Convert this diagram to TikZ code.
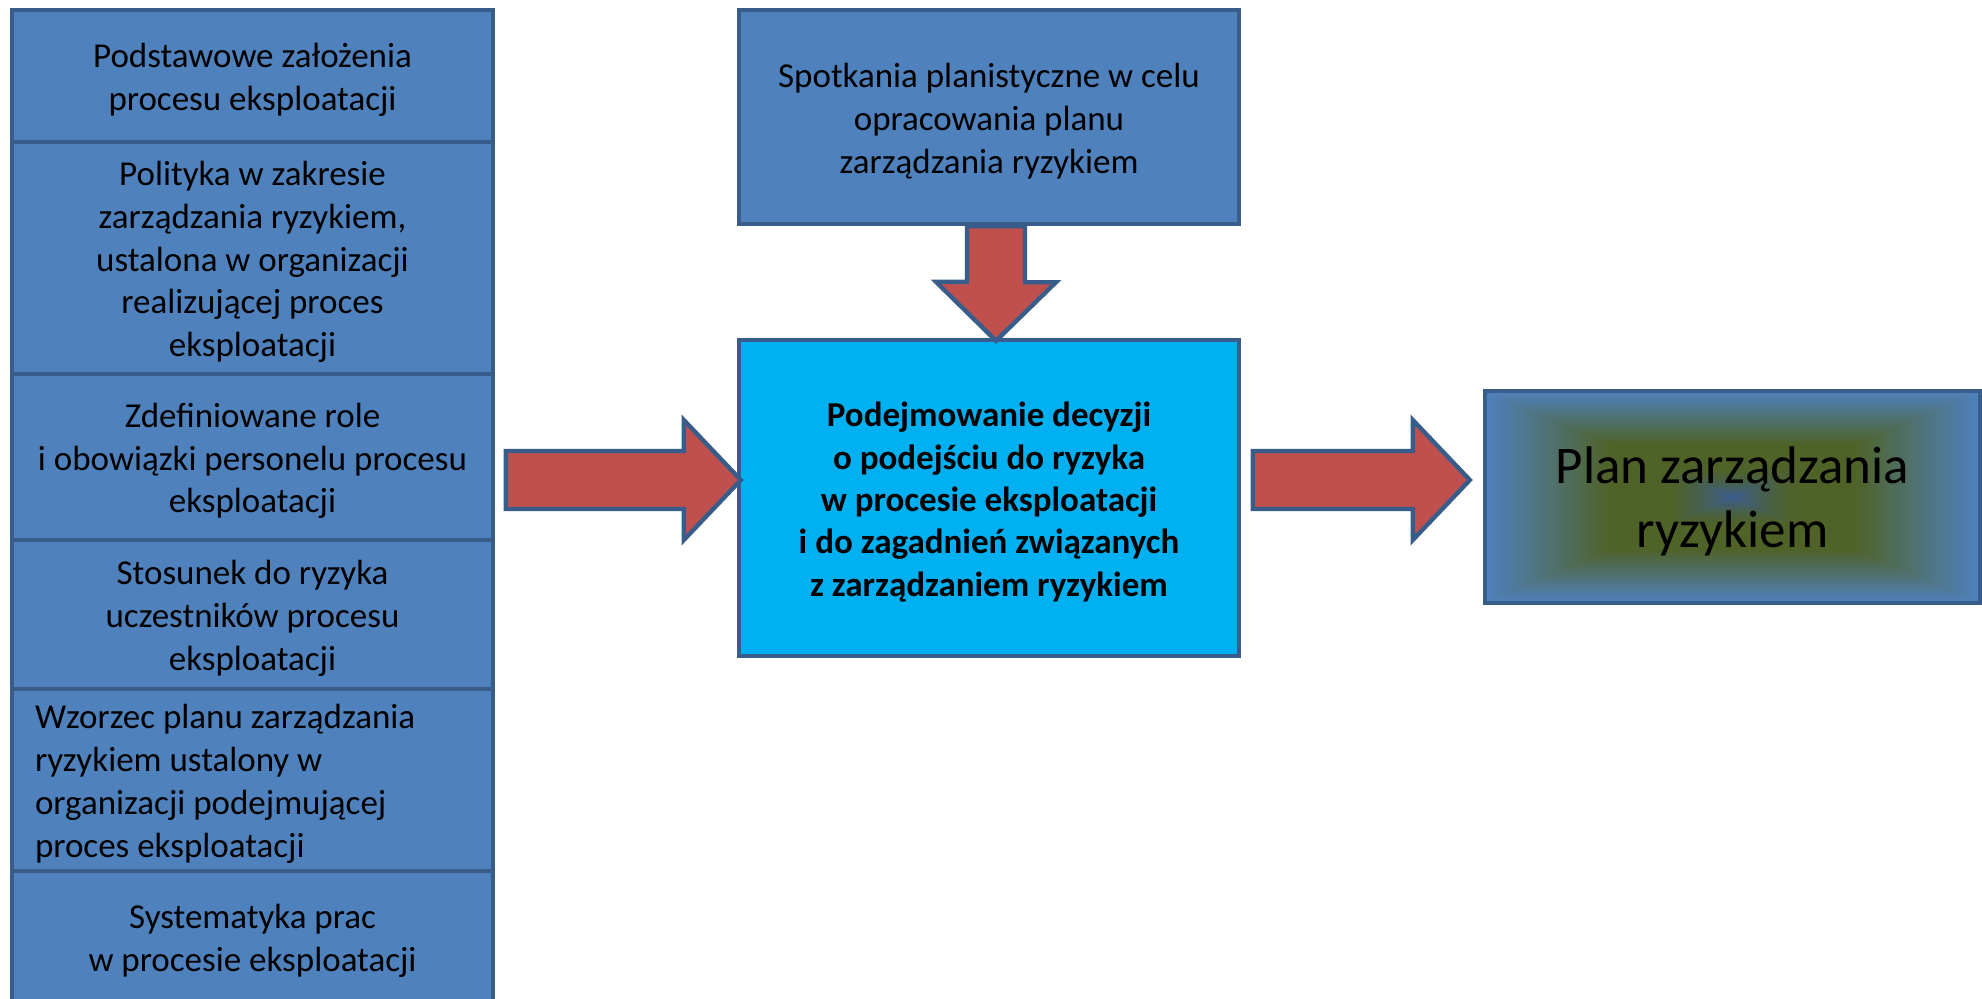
\documentclass[tikz,border=0pt]{standalone}
\usepackage{fontspec}
\setmainfont{Carlito}
\usetikzlibrary{calc}

\definecolor{boxblue}{HTML}{4F81BD}
\definecolor{edgeblue}{HTML}{385D8A}
\definecolor{decblue}{HTML}{00B0F0}
\definecolor{arrowred}{HTML}{C0504D}
\definecolor{planolive}{HTML}{4F6228}
\definecolor{spotblue}{HTML}{3A5C94}

\tikzset{
  basebox/.style={draw=edgeblue, line width=2.2pt, inner sep=0pt},
  inbox/.style={basebox, fill=boxblue, minimum width=240.5pt},
  boxtext/.style={align=center, text=black, inner sep=0pt, yshift=-2pt,
    font=\fontsize{17.5}{21.4}\selectfont},
  bigarrow/.style={draw=edgeblue, line width=2.2pt, fill=arrowred, line join=miter},
  rectgrad/.style={path picture={
    \coordinate (pc) at (path picture bounding box.center);
    \coordinate (pne) at (path picture bounding box.north east);
    \coordinate (psw) at (path picture bounding box.south west);
    % outer ring: blue edge fading into olive
    \foreach \i in {0,...,39}{
      \pgfmathsetmacro\s{1-0.5*\i/40}
      \pgfmathtruncatemacro\p{100*\i/40}
      \fill[planolive!\p!boxblue] ($(pc)!\s!(pne)$) rectangle ($(pc)!\s!(psw)$);
    }
    % inner part: olive turning into a dark blue spot
    \foreach \i in {0,...,39}{
      \pgfmathsetmacro\t{0.5+0.5*\i/40}
      \pgfmathsetmacro\s{1-\t}
      \pgfmathtruncatemacro\p{100*(max(0,(\t-0.72)/0.28))^1.5}
      \fill[spotblue!\p!planolive] ($(pc)!\s!(pne)$) rectangle ($(pc)!\s!(psw)$);
    }
  }},
}

\begin{document}
\begin{tikzpicture}[x=0.5pt,y=-0.5pt]
\useasboundingbox (0,0) rectangle (1982,998);

% left column of inputs
\node[inbox, minimum height=66pt] (in1) at (252.5,76) {};
\node[boxtext] at (in1) {Podstawowe założenia\\procesu eksploatacji};
\node[inbox, minimum height=116pt] (in2) at (252.5,258) {};
\node[boxtext] at (in2) {Polityka w zakresie\\zarządzania ryzykiem,\\ustalona w organizacji\\realizującej proces\\eksploatacji};
\node[inbox, minimum height=83pt] (in3) at (252.5,457) {};
\node[boxtext] at (in3) {Zdefiniowane role\\i obowiązki personelu procesu\\eksploatacji};
\node[inbox, minimum height=74.5pt] (in4) at (252.5,614.5) {};
\node[boxtext] at (in4) {Stosunek do ryzyka\\uczestników procesu\\eksploatacji};
\node[inbox, minimum height=91pt] (in5) at (252.5,780) {};
\node[boxtext, align=flush left, text width=217.5pt] at (in5)
  {Wzorzec planu zarządzania\\ryzykiem ustalony w\\organizacji podejmującej\\proces eksploatacji};
\node[inbox, minimum height=66pt] (in6) at (252.5,937) {};
\node[boxtext] at (in6) {Systematyka prac\\w procesie eksploatacji};

% planning meetings
\node[inbox, minimum width=250pt, minimum height=107pt] (top) at (989,117) {};
\node[boxtext] at (top) {Spotkania planistyczne w celu\\opracowania planu\\zarządzania ryzykiem};

% decision box
\node[inbox, fill=decblue, minimum width=250pt, minimum height=158pt] (dec) at (989,498) {};
\node[boxtext, font=\fontsize{17.5}{21.2}\selectfont\bfseries] at (dec)
  {Podejmowanie decyzji\\o podejściu do ryzyka\\w procesie eksploatacji\\i do zagadnień związanych\\z zarządzaniem ryzykiem};

% resulting plan
\node[basebox, rectgrad, minimum width=247.5pt, minimum height=106pt] (plan) at (1732.5,497) {};
\node[boxtext, yshift=-0.3pt, font=\fontsize{26.5}{32}\selectfont] at (plan)
  {Plan zarządzania\\ryzykiem};

% block arrows
\coordinate (tipL) at ($(dec.west)+(4,-18)$);
\draw[bigarrow] (tipL) -- ++(-57,-60) -- ++(0,31) -- ++(-178,0) -- ++(0,58)
  -- ++(178,0) -- ++(0,31) -- cycle;

\coordinate (tipR) at ($(plan.west)+(-13,-17)$);
\draw[bigarrow] (tipR) -- ++(-57,-60) -- ++(0,31) -- ++(-160,0) -- ++(0,58)
  -- ++(160,0) -- ++(0,31) -- cycle;

\coordinate (tipD) at ($(dec.north)+(7,3)$);
\draw[bigarrow] (tipD) -- ++(-60,-59) -- ++(31,0) -- ($(top.south)+(-22,0)$)
  -- ($(top.south)+(36,0)$) -- ++(0,56) -- ++(31,0) -- cycle;
\end{tikzpicture}
\end{document}
